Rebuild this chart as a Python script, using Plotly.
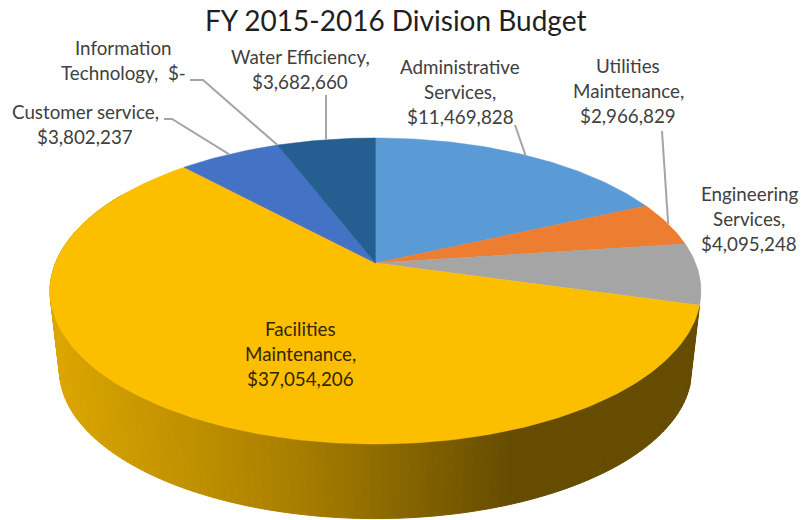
import math
import plotly.graph_objects as go

title = "FY 2015-2016 Division Budget"
categories = ["Administrative Services", "Utilities Maintenance", "Engineering Services",
              "Facilities Maintenance", "Customer service", "Information Technology", "Water Efficiency"]
values = [11469828, 2966829, 4095248, 37054206, 3802237, 0, 3682660]
colors = ["#5B9BD5", "#ED7D31", "#A5A5A5", "#FCBF00", "#4472C4", "#4472C4", "#255E91"]
label_lines = [
    ["Administrative", "Services,", "$11,469,828"],
    ["Utilities", "Maintenance,", "$2,966,829"],
    ["Engineering", "Services,", "$4,095,248"],
    ["Facilities", "Maintenance,", "$37,054,206"],
    ["Customer service,", "$3,802,237"],
    ["Information", "Technology,  $-"],
    ["Water Efficiency,", "$3,682,660"],
]
label_x = [460, 628, 749, 300, 85, 123, 300]
label_y0 = [66, 65, 193, 328, 111, 47, 56]
leader_start = [(515, 125), (662, 131), None, None, (164, 119), (190, 80), (326, 95)]
leader_elbow = [None, None, None, None, (172, 119), (203, 80), None]

# Perspective geometry of the disc, in page pixels
CX, CY = 375.5, 263.0
K, A, B = 0.183, 320.0, 147.9
ELL_CY = 291.0
DEPTH_CY, DEPTH_S = 370.0, 0.971


def top(theta):
    u, v = math.sin(theta), math.cos(theta)
    d = 1 + K * v
    return CX + A * u / d, CY - B * v / d


def bottom(theta):
    x, y = top(theta)
    return CX + (x - CX) * DEPTH_S, DEPTH_CY + (y - ELL_CY) * DEPTH_S


total = sum(values)
cum = [0.0]
for v in values:
    cum.append(cum[-1] + v / total * 2 * math.pi)

fig = go.Figure()

# Side wall of the Facilities slice, shaded left to right
GRAD = [(50, (222, 168, 0)), (300, (168, 126, 0)), (510, (101, 76, 0)), (801, (101, 76, 0))]


def shade(x):
    for (x0, c0), (x1, c1) in zip(GRAD, GRAD[1:]):
        if x <= x1:
            t = max(0, (x - x0) / (x1 - x0))
            return "rgb(%d,%d,%d)" % tuple(round(a + (b - a) * t) for a, b in zip(c0, c1))
    return "rgb(101,76,0)"


a0, a1 = cum[3], min(cum[4], math.radians(300))
N = 140
for i in range(N):
    t0 = a0 + (a1 - a0) * i / N
    t1 = a0 + (a1 - a0) * (i + 1) / N
    p = [top(t0), top(t1), bottom(t1), bottom(t0), top(t0)]
    col = shade((bottom(t0)[0] + bottom(t1)[0]) / 2)
    fig.add_trace(go.Scatter(x=[q[0] for q in p], y=[q[1] for q in p], mode="lines",
                             fill="toself", fillcolor=col, line=dict(color=col, width=1),
                             hoverinfo="skip", showlegend=False))

# Top faces
for i, name in enumerate(categories):
    if values[i] == 0:
        continue
    n = max(2, int((cum[i + 1] - cum[i]) * 60))
    pts = [top(cum[i] + (cum[i + 1] - cum[i]) * j / n) for j in range(n + 1)]
    xs = [CX] + [q[0] for q in pts] + [CX]
    ys = [CY] + [q[1] for q in pts] + [CY]
    fig.add_trace(go.Scatter(x=xs, y=ys, mode="lines", fill="toself", fillcolor=colors[i],
                             line=dict(color=colors[i], width=0.5), name=name,
                             hoverinfo="name", showlegend=False))

# Leader lines, ending on the rim at each slice's mid angle
for i in range(len(values)):
    if leader_start[i] is None:
        continue
    end = top((cum[i] + cum[i + 1]) / 2)
    p = [leader_start[i]] + ([leader_elbow[i]] if leader_elbow[i] else []) + [end]
    fig.add_trace(go.Scatter(x=[q[0] for q in p], y=[q[1] for q in p], mode="lines",
                             line=dict(color="#A5A5A5", width=2), hoverinfo="skip", showlegend=False))

FONT = "Lato"
ann = [dict(x=395, y=20, text=title, showarrow=False, xref="x", yref="y",
            font=dict(family=FONT, size=28, color="#1F1F1F"))]
for i, lines in enumerate(label_lines):
    for j, line in enumerate(lines):
        ann.append(dict(x=label_x[i], y=label_y0[i] + 25 * j, text=line, showarrow=False,
                        xref="x", yref="y",
                        font=dict(family=FONT, size=18.8, color="#404040" if i != 3 else "#332600")))

fig.update_layout(
    width=801, height=520, autosize=False,
    margin=dict(l=0, r=0, t=0, b=0),
    paper_bgcolor="white", plot_bgcolor="white",
    xaxis=dict(range=[0, 801], visible=False, fixedrange=True),
    yaxis=dict(range=[520, 0], visible=False, fixedrange=True),
    annotations=ann, showlegend=False,
)
fig.write_html("out.html", config={"displayModeBar": False},
               post_script="document.body.style.margin='0';document.body.style.overflow='hidden';")
